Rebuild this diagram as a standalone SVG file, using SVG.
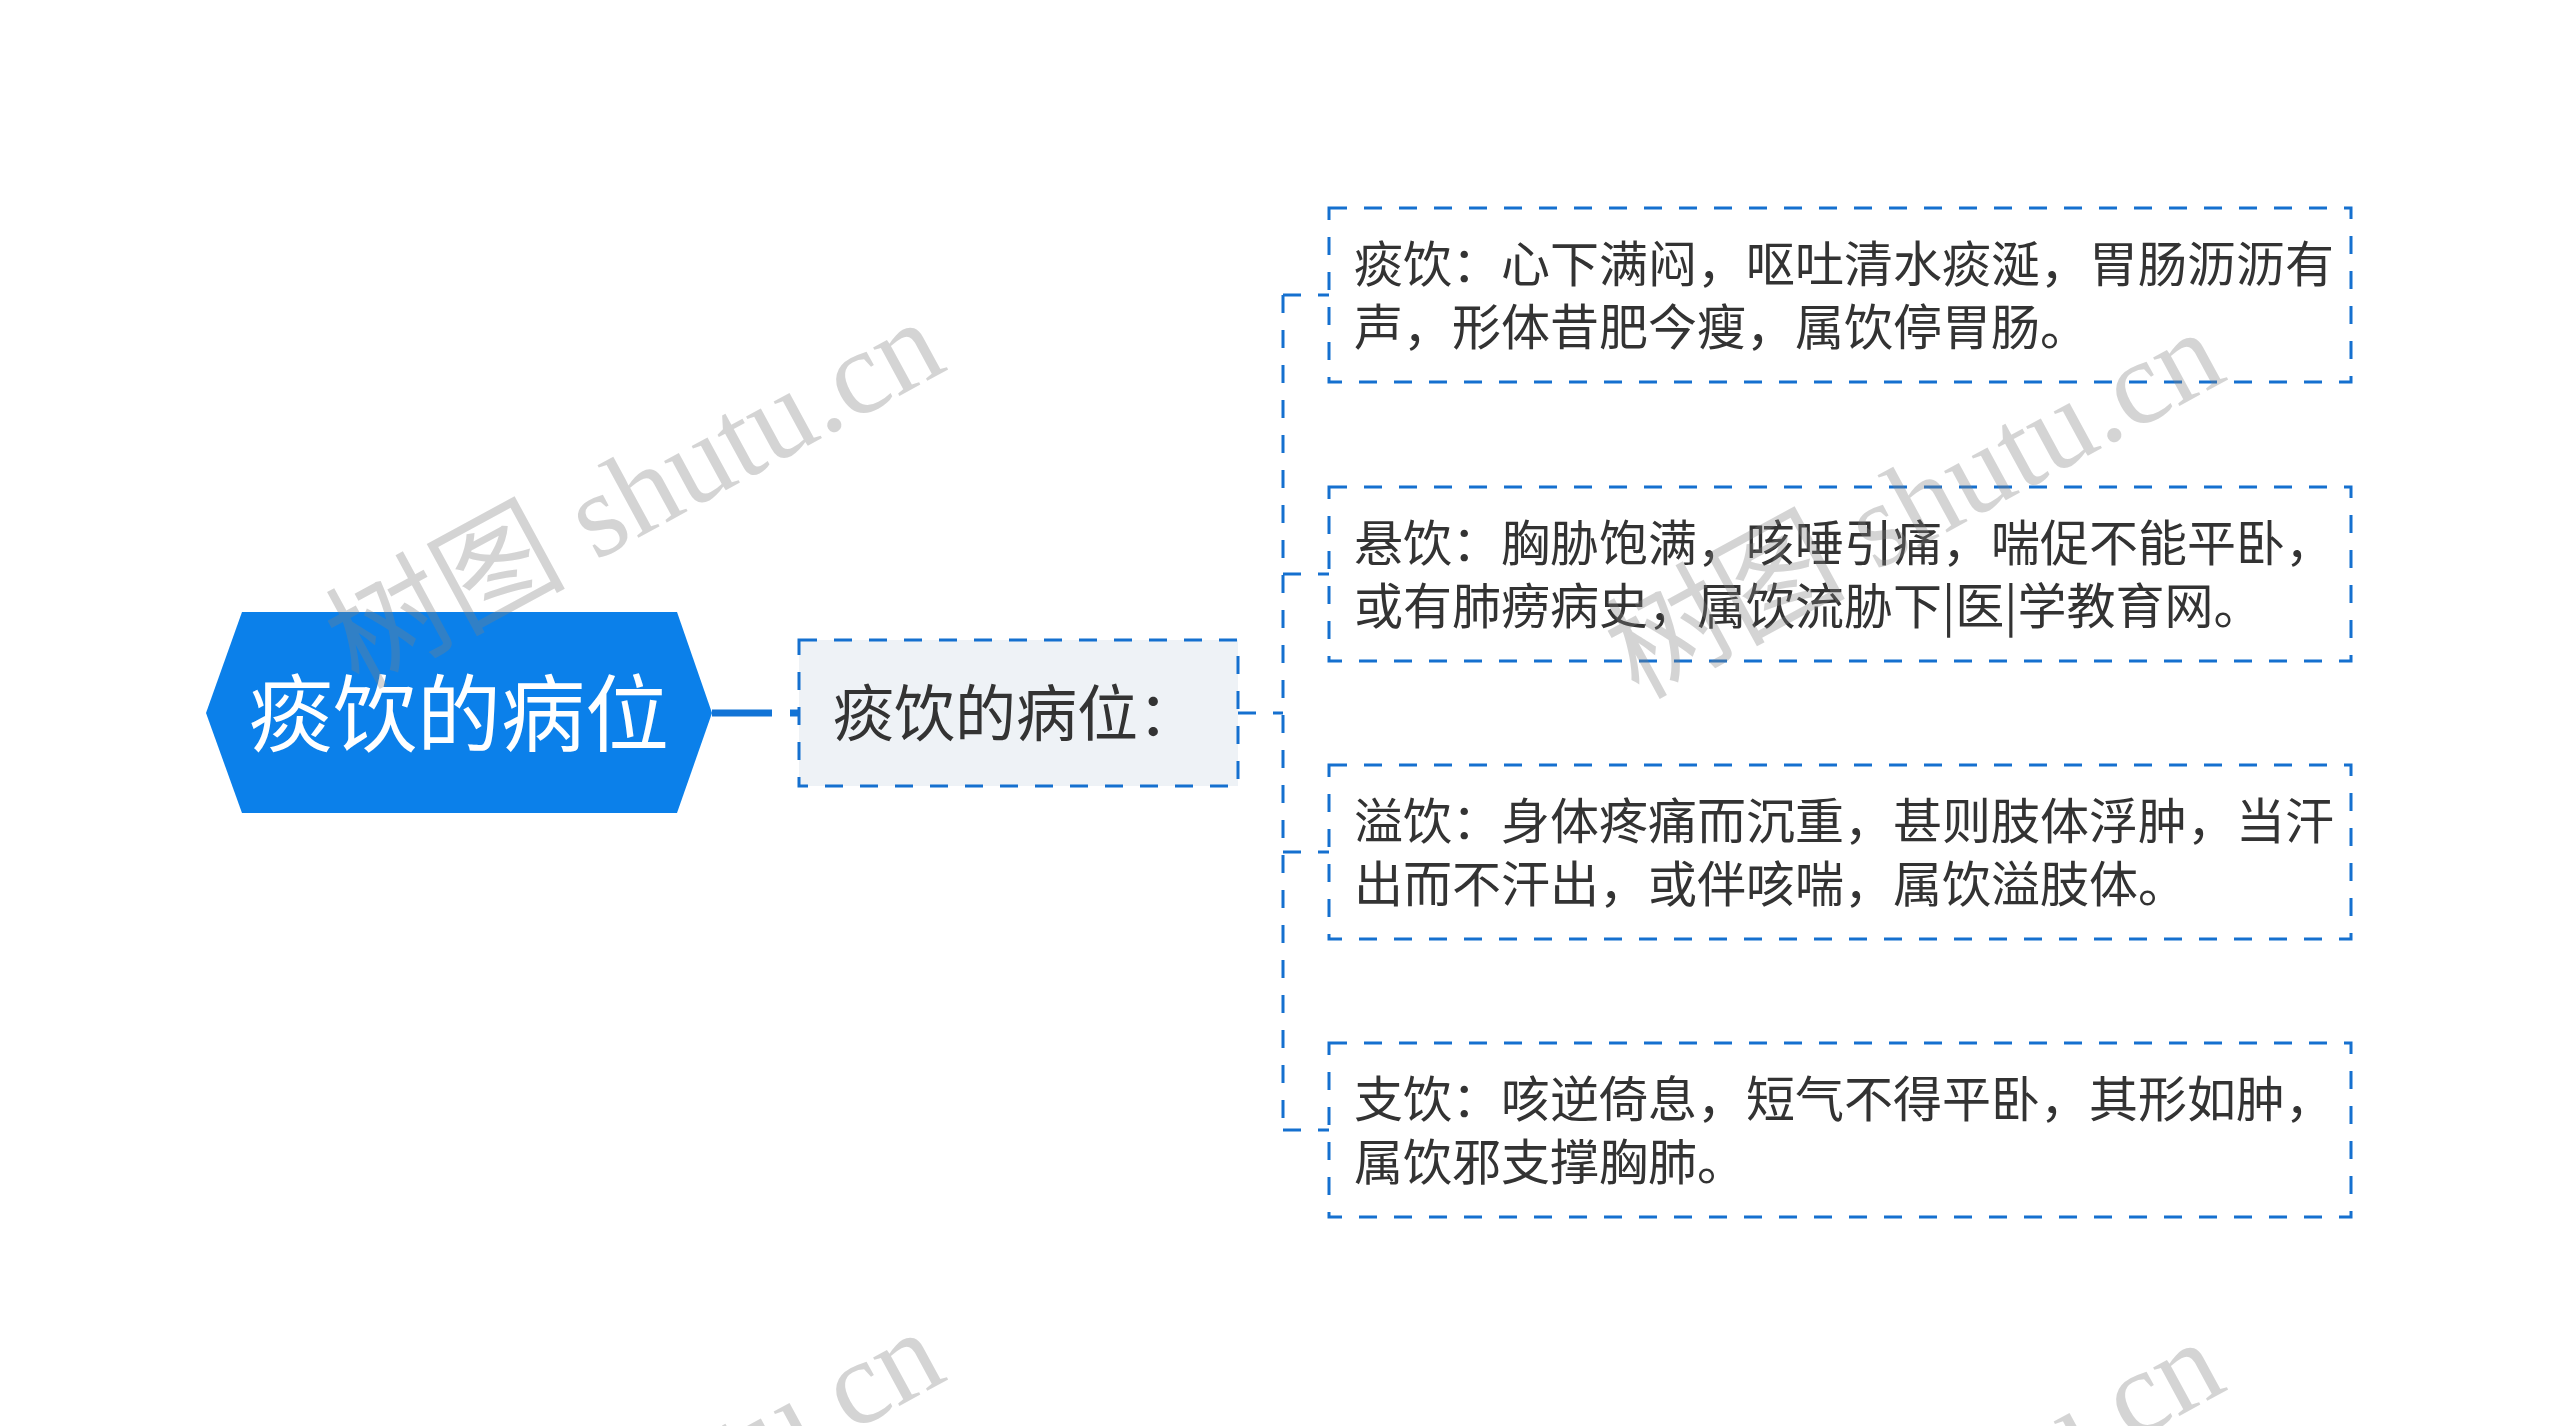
<svg xmlns="http://www.w3.org/2000/svg" width="2560" height="1426" viewBox="0 0 2560 1426">
<style>
.dash{fill:none;stroke:#1570cf;stroke-width:3;stroke-dasharray:18 17}
.box{stroke:#1570cf;stroke-width:3;stroke-dasharray:18 17}
.t{font-family:"Noto Sans CJK SC","Noto Sans",sans-serif;fill:#333333}
.wm{font-family:"Liberation Serif","Noto Sans CJK SC",serif;font-size:120px;fill:#808080;opacity:0.33}
</style>
<rect x="0" y="0" width="2560" height="1426" fill="#ffffff"/>
<g id="connectors">
<line x1="712" y1="713" x2="772" y2="713" stroke="#1274d6" stroke-width="7"/>
<line x1="790" y1="713" x2="800" y2="713" stroke="#1274d6" stroke-width="7"/>
<line class="dash" x1="1238" y1="713" x2="1283" y2="713"/>
<line class="dash" x1="1283" y1="295" x2="1283" y2="1130"/>
<line class="dash" x1="1283" y1="295" x2="1329" y2="295"/>
<line class="dash" x1="1283" y1="574" x2="1329" y2="574"/>
<line class="dash" x1="1283" y1="852" x2="1329" y2="852"/>
<line class="dash" x1="1283" y1="1130" x2="1329" y2="1130"/>
</g>
<g id="root">
<polygon points="206,713 242,612 677,612 712,713 677,813 242,813" fill="#0b80ea"/>
<text x="459" y="745" text-anchor="middle" font-family="'Noto Sans CJK SC','Noto Sans',sans-serif" font-size="84" fill="#ffffff">痰饮的病位</text>
</g>
<g id="sub">
<rect class="box" x="799" y="640" width="439" height="146" fill="#eef2f6"/>
<text class="t" x="833" y="736" font-size="61">痰饮的病位：</text>
</g>
<g id="c1">
<rect class="box" x="1329" y="208" width="1022" height="174" fill="#ffffff"/>
<text class="t" font-size="49"><tspan x="1354" y="282">痰饮：心下满闷，呕吐清水痰涎，胃肠沥沥有</tspan><tspan x="1354" y="345">声，形体昔肥今瘦，属饮停胃肠。</tspan></text>
</g>
<g id="c2">
<rect class="box" x="1329" y="487" width="1022" height="174" fill="#ffffff"/>
<text class="t" font-size="49"><tspan x="1354" y="561">悬饮：胸胁饱满，咳唾引痛，喘促不能平卧，</tspan><tspan x="1354" y="624">或有肺痨病史，属饮流胁下|医|学教育网。</tspan></text>
</g>
<g id="c3">
<rect class="box" x="1329" y="765" width="1022" height="174" fill="#ffffff"/>
<text class="t" font-size="49"><tspan x="1354" y="839">溢饮：身体疼痛而沉重，甚则肢体浮肿，当汗</tspan><tspan x="1354" y="902">出而不汗出，或伴咳喘，属饮溢肢体。</tspan></text>
</g>
<g id="c4">
<rect class="box" x="1329" y="1043" width="1022" height="174" fill="#ffffff"/>
<text class="t" font-size="49"><tspan x="1354" y="1117">支饮：咳逆倚息，短气不得平卧，其形如肿，</tspan><tspan x="1354" y="1180">属饮邪支撑胸肺。</tspan></text>
</g>
<g id="watermarks">
<text class="wm" transform="translate(358,690) rotate(-28.5)">树图 shutu.cn</text>
<text class="wm" transform="translate(1638,700) rotate(-28.5)">树图 shutu.cn</text>
<text class="wm" transform="translate(358,1700) rotate(-28.5)">树图 shutu.cn</text>
<text class="wm" transform="translate(1638,1710) rotate(-28.5)">树图 shutu.cn</text>
</g>
</svg>
